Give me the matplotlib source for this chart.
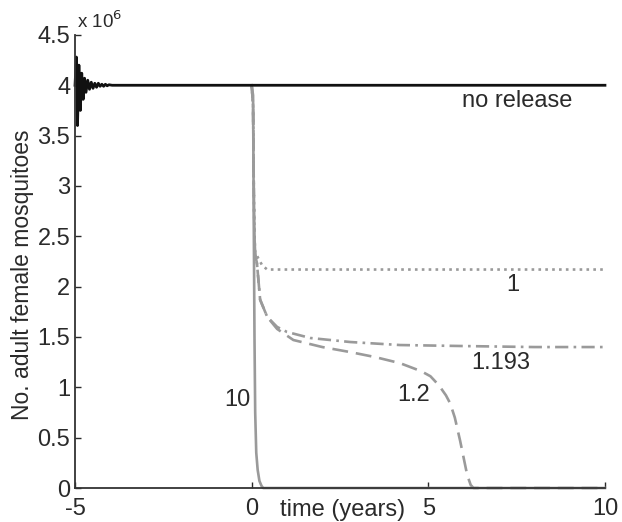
import numpy as np
import matplotlib.pyplot as plt

plt.rcParams['font.family'] = ['Liberation Sans', 'DejaVu Sans']
plt.rcParams['axes.unicode_minus'] = False

# no release (black)
t_nr = [-5.00, -4.96, -4.93, -4.89, -4.85, -4.81, -4.77, -4.73, -4.69, -4.64, -4.59,
        -4.54, -4.49, -4.44, -4.39, -4.34, -4.29, -4.24, -4.19, -4.14, -4.09, -4.04,
        -3.95, 10.0]
y_nr = [4.00, 4.28, 3.60, 4.20, 3.75, 4.12, 3.86, 4.07, 3.93, 4.05, 3.96,
        4.03, 3.97, 4.02, 3.98, 4.02, 3.99, 4.01, 3.99, 4.01, 3.995, 4.005,
        4.00, 4.00]

# release ratio 10 (solid grey)
t_10 = [0.0, 0.04, 0.06, 0.08, 0.10, 0.13, 0.17, 0.22, 0.28, 0.33, 10.0]
y_10 = [4.0, 3.9, 2.6, 1.5, 0.75, 0.35, 0.18, 0.07, 0.02, 0.0, 0.0]

# release ratio 1 (dotted)
t_1 = [0.0, 0.04, 0.06, 0.08, 0.10, 0.19, 0.30, 0.44, 1.0, 10.0]
y_1 = [4.0, 3.8, 3.0, 2.5, 2.34, 2.28, 2.21, 2.17, 2.17, 2.17]

# release ratio 1.193 (dash-dot)
t_1193 = [0.0, 0.04, 0.06, 0.08, 0.10, 0.15, 0.24, 0.44, 0.72, 1.0, 1.66, 2.79,
          4.2, 6.0, 8.0, 10.0]
y_1193 = [4.0, 3.8, 3.0, 2.5, 2.32, 2.23, 1.87, 1.70, 1.60, 1.55, 1.49, 1.45,
          1.42, 1.41, 1.40, 1.40]

# release ratio 1.2 (dashed)
t_12 = [0.0, 0.04, 0.06, 0.08, 0.10, 0.15, 0.24, 0.44, 0.72, 1.18, 2.0, 2.79,
        3.5, 4.2, 4.5, 4.8, 5.06, 5.3, 5.5, 5.62, 5.75, 5.9, 6.0, 6.1, 6.2, 6.28, 10.0]
y_12 = [4.0, 3.8, 3.0, 2.5, 2.32, 2.23, 1.87, 1.70, 1.58, 1.47, 1.40, 1.35,
        1.30, 1.24, 1.20, 1.16, 1.11, 1.02, 0.92, 0.84, 0.70, 0.47, 0.30, 0.13, 0.03, 0.0, 0.0]

grey = '#9a9a9a'
txt = '#2a2a2a'

fig = plt.figure(figsize=(6.22, 5.22), dpi=100)
ax = fig.add_axes([0.1206, 0.0651, 0.852, 0.868])

ax.plot(t_10, y_10, '-', color=grey, lw=1.9, clip_on=False)
ax.plot(t_1, y_1, color=grey, lw=1.9, ls=(0, (1, 1.6)), clip_on=False)
ax.plot(t_1193, y_1193, color=grey, lw=1.9, ls=(0, (5, 2, 1, 2)), clip_on=False)
ax.plot(t_12, y_12, color=grey, lw=1.9, ls=(0, (6, 3)), clip_on=False)
ax.plot(t_nr, y_nr, '-', color='#111111', lw=2.0, clip_on=False)

fs = 17
ax.text(7.52, 3.84, 'no release', fontsize=fs, ha='center', va='center', color=txt)
ax.text(7.38, 2.02, '1', fontsize=fs, ha='center', va='center', color=txt)
ax.text(7.04, 1.24, '1.193', fontsize=fs, ha='center', va='center', color=txt)
ax.text(4.58, 0.92, '1.2', fontsize=fs, ha='center', va='center', color=txt)
ax.text(-0.41, 0.87, '10', fontsize=fs, ha='center', va='center', color=txt)

ax.set_xlim(-5, 10)
ax.set_ylim(0, 4.5)
ax.set_xticks([-5, 0, 5, 10])
ax.set_xticklabels(['-5', '0', '5', '10'])
ax.set_yticks(np.arange(0, 4.51, 0.5))
ax.set_yticklabels(['0', '0.5', '1', '1.5', '2', '2.5', '3', '3.5', '4', '4.5'])
ax.tick_params(direction='in', length=4, width=1, labelsize=fs, colors=txt)
ax.tick_params(axis='y', pad=3.5)
ax.tick_params(axis='x', pad=7)

for s in ['top', 'right']:
    ax.spines[s].set_visible(False)
for s in ['left', 'bottom']:
    ax.spines[s].set_linewidth(1.3)
    ax.spines[s].set_color('#333333')

ax.set_xlabel('time (years)', fontsize=fs, color=txt)
ax.xaxis.set_label_coords(0.505, -0.025)
ax.set_ylabel('No. adult female mosquitoes', fontsize=16.5, color=txt)
ax.yaxis.set_label_coords(-0.078, 0.47)

ax.text(0.004, 1.03, r'x 10$^{6}$', transform=ax.transAxes, fontsize=13.5,
        ha='left', va='center', color=txt)

fig.savefig('out.png', dpi=100)
